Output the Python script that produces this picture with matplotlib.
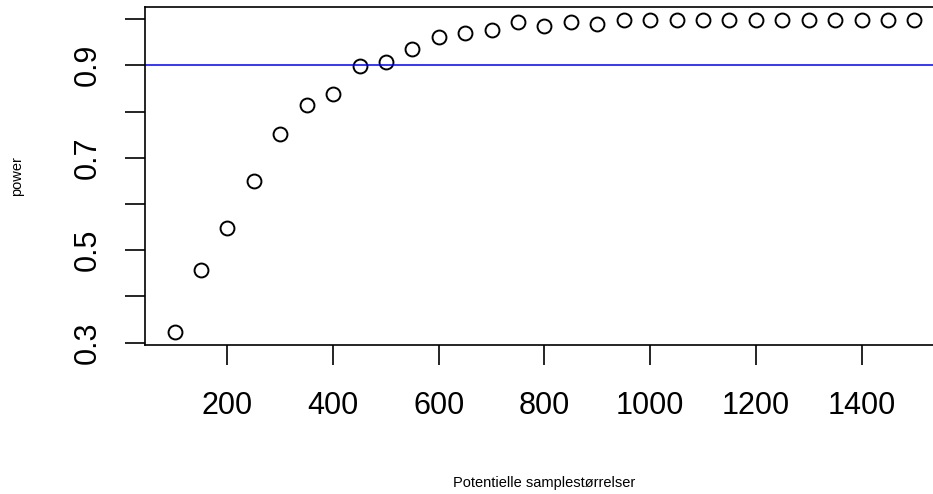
import matplotlib
matplotlib.use("Agg")
import matplotlib.pyplot as plt
import numpy as np

plt.rcParams['font.family'] = ['Liberation Sans', 'DejaVu Sans']

# samplestørrelser og estimeret power
sample_sizes = np.arange(100, 1501, 50)
power = [0.322, 0.457, 0.549, 0.650, 0.752, 0.814, 0.837, 0.899, 0.907, 0.935,
         0.962, 0.969, 0.976, 0.994, 0.986, 0.994, 0.989, 0.998, 0.999, 0.998,
         0.999, 0.999, 0.999, 0.999, 0.999, 0.999, 0.999, 0.999, 0.999]
target_power = 0.9

x_ticks = [200, 400, 600, 800, 1000, 1200, 1400]
y_ticks = [0.3, 0.4, 0.5, 0.6, 0.7, 0.8, 0.9, 1.0]
y_ticklabels = ['0.3', '', '0.5', '', '0.7', '', '0.9', '']

fig = plt.figure(figsize=(9.33, 4.94), dpi=100)
# aksen går ud over højre kant, som i originalen
ax = fig.add_axes([145 / 933, 149 / 494, 799 / 933, 338 / 494])

ax.plot(sample_sizes, power, 'o', mfc='none', mec='black', ms=10, mew=1.4)
ax.axhline(target_power, color='blue', lw=1.1)

# R-agtig 4% udvidelse af akserne
def r_range(v):
    lo, hi = min(v), max(v)
    d = (hi - lo) * 0.04
    return lo - d, hi + d

ax.set_xlim(*r_range(sample_sizes))
ax.set_ylim(*r_range(power))

ax.set_xticks(x_ticks)
ax.set_xticklabels([str(t) for t in x_ticks])
ax.set_yticks(y_ticks)
ax.set_yticklabels(y_ticklabels, rotation=90, va='center')

ax.tick_params(axis='both', length=14.4, width=1.2, labelsize=22, direction='out')
ax.tick_params(axis='x', pad=19)
ax.tick_params(axis='y', pad=16)
for s in ax.spines.values():
    s.set_linewidth(1.2)

ax.set_xlabel('Potentielle samplestørrelser', fontsize=10.5, va='center')
ax.xaxis.set_label_coords(0.5, -0.408)
ax.set_ylabel('power', fontsize=10.5, va='center')
ax.yaxis.set_label_coords(-0.160, 0.5)

fig.savefig('out.png', dpi=100)
